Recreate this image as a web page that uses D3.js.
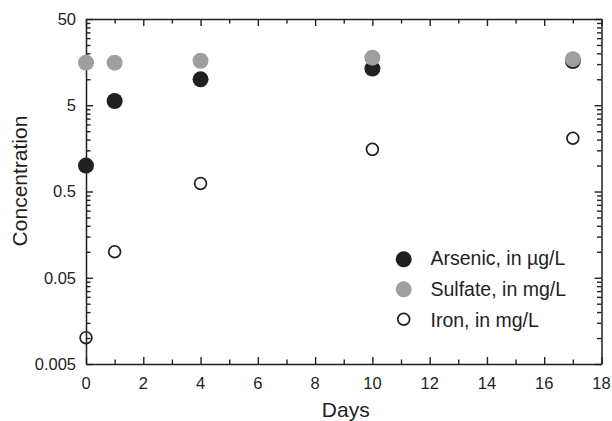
<!DOCTYPE html>
<html>
<head>
<meta charset="utf-8">
<script src="https://cdn.jsdelivr.net/npm/d3@7"></script>
<style>
  html, body { margin: 0; padding: 0; background: #fff; }
  svg { display: block; }
  text { font-family: "Liberation Sans", Arial, Helvetica, sans-serif; fill: #231f20; }
</style>
</head>
<body>
<svg id="chart" width="612" height="421"></svg>
<script>
// ---- data ----
const days = [0, 1, 4, 10, 17];
const arsenic = [1.0, 5.6, 10.0, 13.3, 16.3];   // µg/L
const sulfate = [15.6, 15.6, 16.4, 17.8, 17.1]; // mg/L
const iron = [0.0101, 0.1, 0.62, 1.54, 2.07];   // mg/L

const seriesNames = ["Arsenic, in \u00B5g/L", "Sulfate, in mg/L", "Iron, in mg/L"];
const xMajorTicks = [0, 2, 4, 6, 8, 10, 12, 14, 16, 18];
const xMinorTicks = [1, 3, 5, 7, 9, 11, 13, 15, 17];
const yMajorTicks = [0.005, 0.05, 0.5, 5, 50];
const yMajorLabels = ["0.005", "0.05", "0.5", "5", "50"];
const yMinorMultipliers = [2, 3, 4, 5, 6, 7, 8, 9];

// ---- layout ----
const svg = d3.select("#chart");
const mLeft = 86, mRight = 601.5, mTop = 19, mBottom = 364;
const x = d3.scaleLinear().domain([0, 18]).range([mLeft, mRight]);
const y = d3.scaleLog().domain([0.005, 50]).range([mBottom, mTop]);

const ink = "#231f20";
const grey = "#9d9fa2";

const yMinorTicks = [];
yMajorTicks.slice(0, -1).forEach(m => {
  yMinorMultipliers.forEach(k => yMinorTicks.push(m * k));
});

const majorLen = 7, minorLen = 4.5;

// iron (open) drawn without fill, beneath axes
const pts = svg.append("g");
pts.selectAll("circle").data(days.map((d, i) => [d, iron[i]]))
  .enter().append("circle")
  .attr("cx", d => x(d[0])).attr("cy", d => y(d[1]))
  .attr("r", 5.9).attr("fill", "none").attr("stroke", ink).attr("stroke-width", 1.7);

// ---- axes ----
const axes = svg.append("g");
function addAxis(axisFn, scale, pos, ticks, len, keepDomain) {
  const g = axes.append("g").attr("transform", pos)
    .call(axisFn(scale).tickValues(ticks).tickSizeInner(-len).tickSizeOuter(0).tickFormat(""));
  if (!keepDomain) g.select(".domain").remove();
  g.selectAll("text").remove();
  return g;
}
addAxis(d3.axisBottom, x, `translate(0,${mBottom})`, xMajorTicks, majorLen, true);
addAxis(d3.axisBottom, x, `translate(0,${mBottom})`, xMinorTicks, minorLen, false);
addAxis(d3.axisTop, x, `translate(0,${mTop})`, xMajorTicks, majorLen, true);
addAxis(d3.axisTop, x, `translate(0,${mTop})`, xMinorTicks, minorLen, false);
addAxis(d3.axisLeft, y, `translate(${mLeft},0)`, yMajorTicks, majorLen, true);
addAxis(d3.axisLeft, y, `translate(${mLeft},0)`, yMinorTicks, minorLen, false);
addAxis(d3.axisRight, y, `translate(${mRight},0)`, yMajorTicks, majorLen, true);
addAxis(d3.axisRight, y, `translate(${mRight},0)`, yMinorTicks, minorLen, false);

axes.selectAll("path.domain").attr("stroke", ink).attr("stroke-width", 1.5);
axes.selectAll(".tick line").attr("stroke", ink).attr("stroke-width", 1.4);

// tick labels
svg.append("g").selectAll("text").data(xMajorTicks).enter().append("text")
  .attr("x", d => x(d)).attr("y", 388.5)
  .attr("text-anchor", "middle").attr("font-size", 16.5)
  .text(d => d);
svg.append("g").selectAll("text").data(yMajorTicks).enter().append("text")
  .attr("x", 76).attr("y", d => y(d)).attr("dy", "0.36em")
  .attr("text-anchor", "end").attr("font-size", 16.5)
  .text((d, i) => yMajorLabels[i]);

// axis titles
svg.append("text").attr("x", (mLeft + mRight) / 2 + 2).attr("y", 416.5)
  .attr("text-anchor", "middle").attr("font-size", 21).text("Days");
svg.append("text").attr("transform", "translate(27,181) rotate(-90)")
  .attr("text-anchor", "middle").attr("font-size", 21).text("Concentration");

// filled points on top
const fp = svg.append("g");
fp.selectAll("circle.as").data(days.map((d, i) => [d, arsenic[i]]))
  .enter().append("circle").attr("class", "as")
  .attr("cx", d => x(d[0])).attr("cy", d => y(d[1]))
  .attr("r", 8).attr("fill", ink);
fp.selectAll("circle.su").data(days.map((d, i) => [d, sulfate[i]]))
  .enter().append("circle").attr("class", "su")
  .attr("cx", d => x(d[0])).attr("cy", d => y(d[1]))
  .attr("r", 8).attr("fill", grey);

// legend
const legendRows = [
  { name: seriesNames[0], fill: ink, stroke: "none", r: 8 },
  { name: seriesNames[1], fill: grey, stroke: "none", r: 8 },
  { name: seriesNames[2], fill: "#fff", stroke: ink, r: 5.9 }
];
const lg = svg.append("g");
legendRows.forEach((row, i) => {
  const cy = 259.3 + i * 30;
  lg.append("circle").attr("cx", 403.7).attr("cy", cy).attr("r", row.r)
    .attr("fill", row.fill).attr("stroke", row.stroke).attr("stroke-width", 1.7);
  lg.append("text").attr("x", 430.5).attr("y", cy + 5.7 + (i === 2 ? 1.5 : i === 1 ? 1 : 0))
    .attr("font-size", 19.5).text(row.name);
});
</script>
</body>
</html>
